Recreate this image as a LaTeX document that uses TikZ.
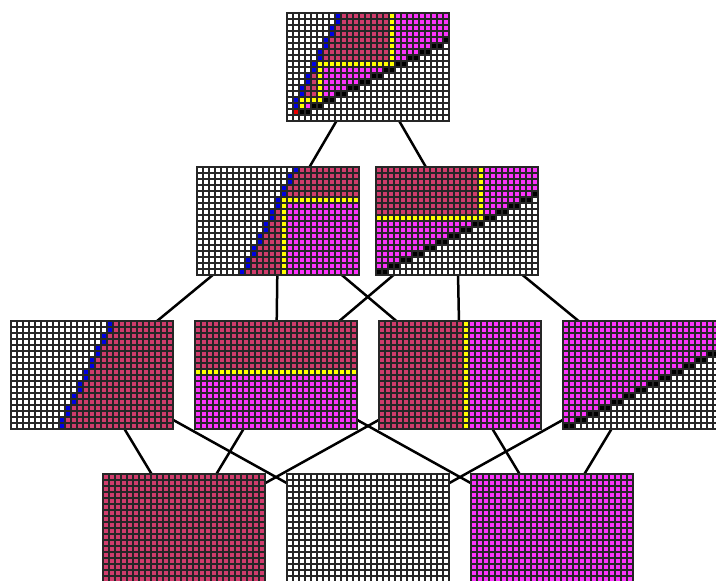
\documentclass[tikz,border=0pt]{standalone}
\usepackage{tikz}
\definecolor{colW}{RGB}{255,255,255}
\definecolor{colB}{RGB}{0,0,225}
\definecolor{colC}{RGB}{208,60,108}
\definecolor{colY}{RGB}{255,255,0}
\definecolor{colM}{RGB}{252,52,252}
\definecolor{colK}{RGB}{0,0,0}
\definecolor{colR}{RGB}{235,0,0}
\newcount\pcol
\def\cs{6}
\newcommand\prow[2]{\global\pcol=0\relax
  \foreach \rl/\rc in {#2}{\path[fill=col\rc] (\the\pcol*\cs,#1*\cs) rectangle ++(\rl*\cs,\cs);\global\advance\pcol by \rl\relax}}
\newcommand\pgridlines{%
  \foreach \i in {0,...,27}{\draw[gl] (\i*\cs,-0.8) -- (\i*\cs,18*\cs+0.8);}
  \foreach \j in {0,...,18}{\draw[gl] (-0.8,\j*\cs) -- (27*\cs+0.8,\j*\cs);}}
\tikzset{
  pbox/.style={rectangle,minimum width=162bp,minimum height=108bp,inner sep=0pt,outer sep=0pt},
  gl/.style={line width=1.6bp,draw=black!85},
  link/.style={line width=2.5bp,draw=black}
}
\begin{document}
\begin{tikzpicture}[x=1bp,y=-1bp]
\useasboundingbox (0,0) rectangle (716,581);
\clip (0,0) rectangle (716,581);
% panel placeholders
\node[pbox] (T)  at (368,67) {};
\node[pbox] (ML) at (278,221) {};
\node[pbox] (MR) at (457,221) {};
\node[pbox] (A1) at (92,375) {};
\node[pbox] (A2) at (276,375) {};
\node[pbox] (A3) at (460,375) {};
\node[pbox] (A4) at (644,375) {};
\node[pbox] (B1) at (184,528) {};
\node[pbox] (B2) at (368,528) {};
\node[pbox] (B3) at (552,528) {};
% connectors
\draw[link] (T) -- (ML);
\draw[link] (T) -- (MR);
\draw[link] (ML) -- (A1);
\draw[link] (ML) -- (A2);
\draw[link] (ML) -- (A3);
\draw[link] (MR) -- (A2);
\draw[link] (MR) -- (A3);
\draw[link] (MR) -- (A4);
\draw[link] (A1) -- (B1);
\draw[link] (A1) -- (B2);
\draw[link] (A2) -- (B1);
\draw[link] (A2) -- (B3);
\draw[link] (A3) -- (B1);
\draw[link] (A3) -- (B3);
\draw[link] (A4) -- (B2);
\draw[link] (A4) -- (B3);
% T panel
\begin{scope}[shift={(287,13)}]
\prow{0}{8/W,1/B,8/C,1/Y,9/M}
\prow{1}{8/W,1/B,8/C,1/Y,9/M}
\prow{2}{7/W,1/B,9/C,1/Y,9/M}
\prow{3}{7/W,1/B,9/C,1/Y,9/M}
\prow{4}{6/W,1/B,10/C,1/Y,8/M,1/K}
\prow{5}{6/W,1/B,10/C,1/Y,6/M,2/K,1/W}
\prow{6}{5/W,1/B,11/C,1/Y,4/M,2/K,3/W}
\prow{7}{5/W,1/B,11/C,1/Y,2/M,2/K,5/W}
\prow{8}{4/W,1/B,13/Y,2/K,7/W}
\prow{9}{4/W,1/B,1/Y,10/M,2/K,9/W}
\prow{10}{3/W,1/B,1/C,1/Y,8/M,2/K,11/W}
\prow{11}{3/W,1/B,1/C,1/Y,6/M,2/K,13/W}
\prow{12}{2/W,1/B,2/C,1/Y,4/M,2/K,15/W}
\prow{13}{2/W,1/B,2/C,1/Y,2/M,2/K,17/W}
\prow{14}{1/W,1/B,4/Y,2/K,19/W}
\prow{15}{1/W,1/B,1/Y,1/M,2/K,21/W}
\prow{16}{1/W,1/R,2/K,23/W}
\prow{17}{27/W}
\pgridlines
\end{scope}
% ML panel
\begin{scope}[shift={(197,167)}]
\prow{0}{16/W,1/B,10/C}
\prow{1}{15/W,1/B,11/C}
\prow{2}{15/W,1/B,11/C}
\prow{3}{14/W,1/B,12/C}
\prow{4}{14/W,1/B,12/C}
\prow{5}{13/W,1/B,13/Y}
\prow{6}{13/W,1/B,1/Y,12/M}
\prow{7}{12/W,1/B,1/C,1/Y,12/M}
\prow{8}{12/W,1/B,1/C,1/Y,12/M}
\prow{9}{11/W,1/B,2/C,1/Y,12/M}
\prow{10}{11/W,1/B,2/C,1/Y,12/M}
\prow{11}{10/W,1/B,3/C,1/Y,12/M}
\prow{12}{10/W,1/B,3/C,1/Y,12/M}
\prow{13}{9/W,1/B,4/C,1/Y,12/M}
\prow{14}{9/W,1/B,4/C,1/Y,12/M}
\prow{15}{8/W,1/B,5/C,1/Y,12/M}
\prow{16}{8/W,1/B,5/C,1/Y,12/M}
\prow{17}{7/W,1/B,6/C,1/Y,12/M}
\pgridlines
\end{scope}
% MR panel
\begin{scope}[shift={(376,167)}]
\prow{0}{17/C,1/Y,9/M}
\prow{1}{17/C,1/Y,9/M}
\prow{2}{17/C,1/Y,9/M}
\prow{3}{17/C,1/Y,9/M}
\prow{4}{17/C,1/Y,8/M,1/K}
\prow{5}{17/C,1/Y,6/M,2/K,1/W}
\prow{6}{17/C,1/Y,4/M,2/K,3/W}
\prow{7}{17/C,1/Y,2/M,2/K,5/W}
\prow{8}{18/Y,2/K,7/W}
\prow{9}{16/M,2/K,9/W}
\prow{10}{14/M,2/K,11/W}
\prow{11}{12/M,2/K,13/W}
\prow{12}{10/M,2/K,15/W}
\prow{13}{8/M,2/K,17/W}
\prow{14}{6/M,2/K,19/W}
\prow{15}{4/M,2/K,21/W}
\prow{16}{2/M,2/K,23/W}
\prow{17}{2/K,25/W}
\pgridlines
\end{scope}
% A1 panel
\begin{scope}[shift={(11,321)}]
\prow{0}{16/W,1/B,10/C}
\prow{1}{16/W,1/B,10/C}
\prow{2}{15/W,1/B,11/C}
\prow{3}{15/W,1/B,11/C}
\prow{4}{14/W,1/B,12/C}
\prow{5}{14/W,1/B,12/C}
\prow{6}{13/W,1/B,13/C}
\prow{7}{13/W,1/B,13/C}
\prow{8}{12/W,1/B,14/C}
\prow{9}{12/W,1/B,14/C}
\prow{10}{11/W,1/B,15/C}
\prow{11}{11/W,1/B,15/C}
\prow{12}{10/W,1/B,16/C}
\prow{13}{10/W,1/B,16/C}
\prow{14}{9/W,1/B,17/C}
\prow{15}{9/W,1/B,17/C}
\prow{16}{8/W,1/B,18/C}
\prow{17}{8/W,1/B,18/C}
\pgridlines
\end{scope}
% A2 panel
\begin{scope}[shift={(195,321)}]
\path[fill=colC] (0,0) rectangle (27*\cs,8*\cs);
\path[fill=colY] (0,8*\cs) rectangle (27*\cs,9*\cs);
\path[fill=colM] (0,9*\cs) rectangle (27*\cs,18*\cs);
\pgridlines
\end{scope}
% A3 panel
\begin{scope}[shift={(379,321)}]
\path[fill=colC] (0,0) rectangle (14*\cs,18*\cs);
\path[fill=colY] (14*\cs,0) rectangle (15*\cs,18*\cs);
\path[fill=colM] (15*\cs,0) rectangle (27*\cs,18*\cs);
\pgridlines
\end{scope}
% A4 panel
\begin{scope}[shift={(563,321)}]
\prow{0}{27/M}
\prow{1}{27/M}
\prow{2}{27/M}
\prow{3}{27/M}
\prow{4}{26/M,1/K}
\prow{5}{24/M,2/K,1/W}
\prow{6}{22/M,2/K,3/W}
\prow{7}{20/M,2/K,5/W}
\prow{8}{18/M,2/K,7/W}
\prow{9}{16/M,2/K,9/W}
\prow{10}{14/M,2/K,11/W}
\prow{11}{12/M,2/K,13/W}
\prow{12}{10/M,2/K,15/W}
\prow{13}{8/M,2/K,17/W}
\prow{14}{6/M,2/K,19/W}
\prow{15}{4/M,2/K,21/W}
\prow{16}{2/M,2/K,23/W}
\prow{17}{2/K,25/W}
\pgridlines
\end{scope}
% bottom row
\begin{scope}[shift={(103,474)}]
\path[fill=colC] (0,0) rectangle (27*\cs,18*\cs);
\pgridlines
\end{scope}
\begin{scope}[shift={(287,474)}]
\path[fill=colW] (0,0) rectangle (27*\cs,18*\cs);
\pgridlines
\end{scope}
\begin{scope}[shift={(471,474)}]
\path[fill=colM] (0,0) rectangle (27*\cs,18*\cs);
\pgridlines
\end{scope}
\end{tikzpicture}
\end{document}
